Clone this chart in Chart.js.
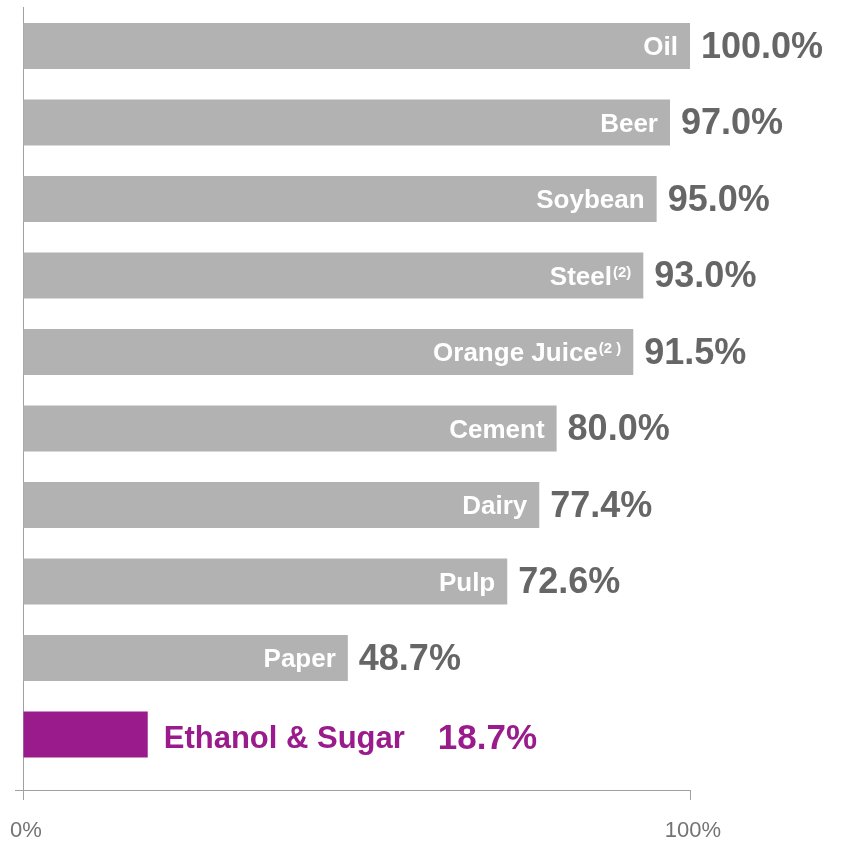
<!DOCTYPE html>
<html>
<head>
<meta charset="utf-8">
<script src="https://cdn.jsdelivr.net/npm/chart.js@4"></script>
<style>
  body { margin: 0; background: #fff; }
  #wrap { width: 846px; height: 841px; position: relative; }
</style>
</head>
<body>
<div id="wrap"><canvas id="share"></canvas></div>
<script>
var sectors = ["Oil", "Beer", "Soybean", "Steel", "Orange Juice", "Cement", "Dairy", "Pulp", "Paper", "Ethanol & Sugar"];
var notes = ["", "", "", "(2)", "(2 )", "", "", "", "", ""];
var shares = [100.0, 97.0, 95.0, 93.0, 91.5, 80.0, 77.4, 72.6, 48.7, 18.7];
var xTicks = [0, 100];

var grey = '#b2b2b2';
var purple = '#991b8c';
var axisGrey = '#a0a0a0';
var valueGrey = '#666666';
var fontFamily = '"Liberation Sans", Arial, sans-serif';

var points = shares.map(function (v, i) { return { x: v, y: i }; });
var colors = sectors.map(function (s, i) { return i === sectors.length - 1 ? purple : grey; });

// names inside the bars, percentages after them
var barLabels = {
    id: 'barLabels',
    afterDatasetsDraw: function (chart) {
        var ctx = chart.ctx;
        var bars = chart.getDatasetMeta(0).data;
        ctx.save();
        ctx.textBaseline = 'middle';
        bars.forEach(function (bar, i) {
            var y = bar.y + 2;
            var end = bar.x;
            var last = i === bars.length - 1;
            var value = shares[i].toFixed(1) + '%';

            if (last) {
                ctx.fillStyle = purple;
                ctx.textAlign = 'left';
                ctx.font = 'bold 31px ' + fontFamily;
                ctx.fillText(sectors[i], end + 16, y + 3);
                var w = ctx.measureText(sectors[i]).width;
                ctx.font = 'bold 35px ' + fontFamily;
                ctx.fillText(value, end + 16 + w + 33, y + 3);
                return;
            }

            ctx.fillStyle = '#ffffff';
            ctx.textAlign = 'right';
            var right = end - 12;
            if (notes[i]) {
                ctx.font = 'bold 15px ' + fontFamily;
                ctx.fillText(notes[i], right, y - 5);
                right -= ctx.measureText(notes[i]).width + 1;
            }
            ctx.font = 'bold 26px ' + fontFamily;
            ctx.fillText(sectors[i], right, y);

            ctx.fillStyle = valueGrey;
            ctx.textAlign = 'left';
            ctx.font = 'bold 36px ' + fontFamily;
            ctx.fillText(value, end + 11, y);
        });
        ctx.restore();
    }
};

new Chart(document.getElementById('share'), {
    type: 'bar',
    data: {
        datasets: [{
            data: points,
            backgroundColor: colors,
            borderWidth: 0,
            categoryPercentage: 0.8,
            barPercentage: 0.75
        }]
    },
    options: {
        indexAxis: 'y',
        responsive: true,
        maintainAspectRatio: false,
        animation: false,
        layout: { padding: { left: 15, right: 156, top: 7, bottom: 0 } },
        plugins: { legend: { display: false }, tooltip: { enabled: false } },
        scales: {
            x: {
                type: 'linear',
                min: 0,
                max: 100,
                afterBuildTicks: function (scale) {
                    scale.ticks = xTicks.map(function (v) { return { value: v }; });
                },
                afterFit: function (scale) {
                    scale.height = 51;
                    scale.paddingLeft = 0;
                    scale.paddingRight = 0;
                },
                grid: { drawOnChartArea: false, tickLength: 10, color: axisGrey },
                border: { display: true, color: axisGrey, width: 1 },
                ticks: {
                    padding: 18,
                    labelOffset: 3,
                    color: '#737373',
                    font: { family: fontFamily, size: 22 },
                    callback: function (v) { return v + '%'; }
                }
            },
            y: {
                type: 'linear',
                reverse: true,
                offset: false,
                min: -0.51,
                max: 9.725,
                afterBuildTicks: function (scale) {
                    scale.ticks = [{ value: scale.max }];
                },
                afterFit: function (scale) { scale.width = 8; },
                grid: { offset: false, drawOnChartArea: false, tickLength: 8, color: axisGrey },
                border: { display: true, color: axisGrey, width: 1 },
                ticks: { display: false }
            }
        }
    },
    plugins: [barLabels]
});
</script>
</body>
</html>
